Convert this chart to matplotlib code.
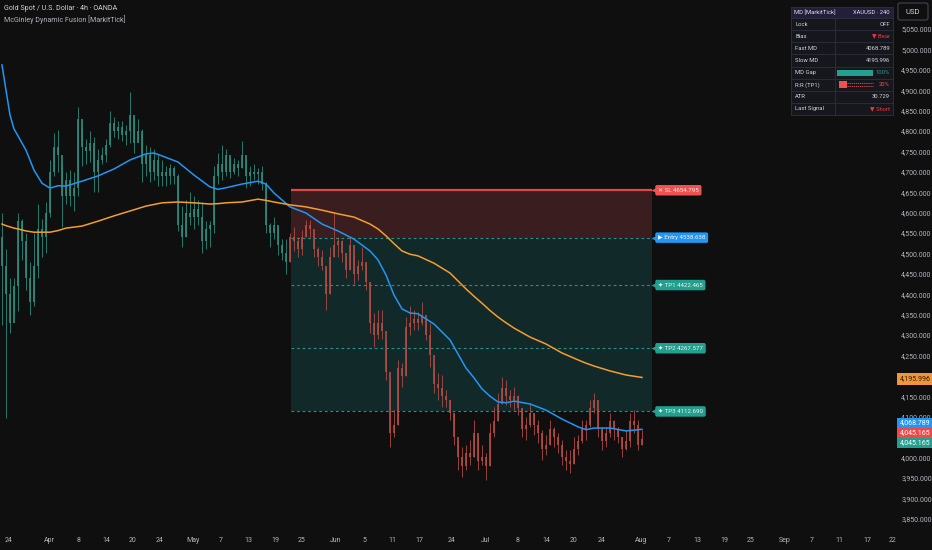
import numpy as np
import matplotlib.pyplot as plt
from matplotlib.patches import Rectangle, FancyBboxPatch

plt.rcParams['font.family'] = ['Roboto', 'DejaVu Sans']

# 4h candles, roughly one per step
first_open = 4540
close = [4470, 4400, 4330, 4420, 4580, 4530, 4440, 4380, 4470, 4560,
         4540, 4600, 4700, 4760, 4740, 4640, 4680, 4640, 4660, 4830,
         4760, 4750, 4770, 4700, 4730, 4740, 4765, 4820, 4800, 4810,
         4790, 4800, 4840, 4770, 4800, 4720, 4740, 4700, 4730, 4690,
         4700, 4690, 4710, 4690, 4570, 4540, 4600, 4590, 4610, 4590,
         4530, 4560, 4570, 4690, 4720, 4700, 4740, 4700, 4720, 4710,
         4740, 4690, 4700, 4695, 4700, 4670, 4570, 4550, 4570, 4520,
         4500, 4480, 4540, 4530, 4510, 4540, 4570, 4560, 4510, 4490,
         4470, 4400, 4490, 4520, 4530, 4500, 4460, 4520, 4450, 4470,
         4480, 4430, 4330, 4300, 4330, 4310, 4210, 4060, 4080, 4220,
         4200, 4320, 4330, 4340, 4330, 4350, 4300, 4250, 4180, 4170,
         4150, 4140, 4110, 4050, 4000, 3980, 4010, 4000, 4060, 3990,
         4000, 3980, 4060, 4090, 4130, 4170, 4150, 4140, 4150, 4120,
         4070, 4080, 4110, 4080, 4060, 4020, 4030, 4070, 4050, 4030,
         4000, 3990, 3985, 4020, 4040, 4070, 4080, 4120, 4140, 4070,
         4040, 4060, 4090, 4070, 4050, 4020, 4040, 4090, 4080, 4030,
         4045.165]
high = [4600, 4510, 4440, 4440, 4600, 4585, 4550, 4480, 4550, 4620,
        4585, 4625, 4730, 4795, 4802, 4720, 4700, 4705, 4700, 4860,
        4810, 4780, 4800, 4785, 4755, 4760, 4780, 4850, 4835, 4825,
        4825, 4815, 4895, 4830, 4830, 4805, 4765, 4760, 4755, 4740,
        4730, 4715, 4720, 4715, 4695, 4615, 4630, 4650, 4640, 4630,
        4625, 4580, 4580, 4715, 4745, 4765, 4755, 4735, 4735, 4730,
        4775, 4730, 4715, 4720, 4710, 4715, 4675, 4575, 4590, 4565,
        4535, 4535, 4550, 4565, 4540, 4557, 4582, 4582, 4535, 4515,
        4508, 4465, 4515, 4600, 4540, 4533, 4490, 4540, 4496, 4484,
        4515, 4476, 4428, 4355, 4361, 4361, 4288, 4190, 4116, 4239,
        4232, 4345, 4370, 4361, 4357, 4380, 4337, 4330, 4227, 4207,
        4202, 4165, 4141, 4109, 4043, 4026, 4031, 4043, 4092, 4050,
        4031, 4011, 4085, 4124, 4158, 4197, 4190, 4165, 4173, 4153,
        4116, 4100, 4133, 4109, 4092, 4067, 4055, 4092, 4075, 4060,
        4043, 4018, 4018, 4050, 4055, 4092, 4092, 4141, 4158, 4116,
        4075, 4075, 4109, 4092, 4075, 4050, 4067, 4109, 4116, 4092,
        4067]
low = [4325, 4097, 4305, 4355, 4360, 4485, 4410, 4350, 4370, 4440,
       4490, 4500, 4590, 4690, 4700, 4565, 4620, 4615, 4605, 4640,
       4715, 4720, 4725, 4650, 4650, 4720, 4725, 4760, 4785, 4780,
       4775, 4765, 4770, 4745, 4775, 4675, 4690, 4675, 4680, 4665,
       4665, 4665, 4670, 4670, 4555, 4515, 4540, 4570, 4560, 4570,
       4500, 4510, 4515, 4550, 4670, 4680, 4690, 4685, 4695, 4690,
       4710, 4660, 4665, 4680, 4670, 4655, 4550, 4515, 4535, 4495,
       4485, 4450, 4480, 4505, 4490, 4496, 4540, 4540, 4490, 4470,
       4459, 4361, 4400, 4490, 4490, 4480, 4440, 4460, 4425, 4435,
       4459, 4410, 4305, 4270, 4290, 4290, 4190, 4025, 4050, 4080,
       4172, 4200, 4300, 4312, 4312, 4325, 4288, 4222, 4158, 4141,
       4124, 4124, 4092, 4030, 3969, 3952, 3969, 3982, 4000, 3969,
       3982, 3945, 3980, 4050, 4090, 4130, 4129, 4124, 4116, 4104,
       4050, 4043, 4075, 4055, 4035, 3994, 4006, 4030, 4026, 4011,
       3982, 3969, 3962, 3985, 4006, 4035, 4043, 4075, 4109, 4050,
       4018, 4026, 4050, 4043, 4035, 4001, 4018, 4026, 4060, 4018,
       4031]

# McGinley dynamic lines, read at these bars
md_idx = [0, 1, 2, 3, 4, 6, 8, 10, 12, 14, 16, 20, 24, 28, 32, 36, 38, 40,
          44, 48, 52, 54, 56, 60, 64, 66, 68, 72, 76, 80, 84, 88, 92, 94, 96,
          98, 100, 102, 104, 108, 112, 116, 118, 120, 122, 124, 126, 128,
          132, 136, 140, 144, 146, 148, 152, 156, 160]
fast_md = [4962, 4900, 4839, 4805, 4788, 4753, 4704, 4672, 4660, 4666,
           4665, 4677, 4690, 4707, 4729, 4744, 4746, 4739, 4724, 4692,
           4663, 4657, 4661, 4670, 4677, 4670, 4648, 4614, 4599, 4572,
           4555, 4535, 4506, 4484, 4447, 4398, 4364, 4354, 4352, 4327,
           4288, 4219, 4195, 4168, 4150, 4136, 4134, 4138, 4131, 4116,
           4094, 4075, 4068, 4072, 4072, 4065, 4068.789]
slow_md = [4572, 4568, 4565, 4562, 4560, 4555, 4552, 4552, 4552, 4556,
           4562, 4567, 4579, 4592, 4604, 4616, 4620, 4624, 4626, 4624,
           4621, 4622, 4624, 4626, 4633, 4630, 4626, 4619, 4614, 4606,
           4597, 4589, 4572, 4560, 4543, 4524, 4506, 4498, 4494, 4476,
           4452, 4413, 4395, 4378, 4360, 4344, 4330, 4317, 4295, 4278,
           4256, 4239, 4231, 4224, 4212, 4202, 4195.996]

signal_bar = 72
sl, entry = 4654.795, 4538.638
tp1, tp2, tp3 = 4422.465, 4267.577, 4112.690

date_labels = ['24', 'Apr', '8', '14', '20', '24', 'May', '7', '13', '19', '25',
               'Jun', '5', '11', '17', '24', 'Jul', '8', '14', '20', '24',
               'Aug', '7', '13', '19', '25', 'Sep', '7', '11', '17', '22']
date_pos = [1.75, 11.75, 19.25, 26, 32.75, 39.5, 47.75, 54.75, 61.5, 68.25, 75,
            83.5, 90.5, 97.5, 104.25, 112.5, 120.75, 129, 136, 143, 150,
            159.75, 166.75, 173.75, 180.5, 187.25, 195.75, 202.5, 209.25,
            216.25, 222.6]

# price scale labels; 4,200 and 4,050 sit under the price boxes
price_ticks = [3850, 3900, 3950, 4000, 4100, 4150, 4250, 4300, 4350, 4400,
               4450, 4500, 4550, 4600, 4650, 4700, 4750, 4800, 4850, 4900,
               4950, 5000, 5050]

table_rows = ['Lock', 'Bias', 'Fast MD', 'Slow MD', 'MD Gap', 'R:R (TP1)', 'ATR', 'Last Signal']
table_vals = ['OFF', '▼ Bear', '4068.789', '4195.996', '100%', '20%', '30.729', '▼ Short']

bg = '#0f0f0f'
teal = '#2e8c7e'
red = '#b14c46'
txt = '#b2b5be'

fig = plt.figure(figsize=(9.32, 5.5), dpi=100, facecolor=bg)
ax = fig.add_axes([0, 20 / 550, 893 / 932, 530 / 550])
ax.set_facecolor(bg)
for s in ax.spines.values():
    s.set_visible(False)

c = np.array(close, dtype=float)
h = np.array(high, dtype=float)
l = np.array(low, dtype=float)
o = np.concatenate([[first_open], c[:-1]])
idx = np.arange(len(c))
cols = [teal if i < signal_bar else red for i in idx]

# trade box
x0, x1 = signal_bar + 0.25, len(c) + 1.5
ax.add_patch(Rectangle((x0, entry), x1 - x0, sl - entry, fc='#3a1d1e', ec='none', zorder=1))
ax.add_patch(Rectangle((x0, tp3), x1 - x0, entry - tp3, fc='#12292a', ec='none', zorder=1))
ax.hlines(sl, x0, x1, color='#e04848', lw=1.6, zorder=2)
for lv in [entry, tp1, tp2, tp3]:
    ax.hlines(lv, x0, x1, color='#2a8f84', lw=0.8, linestyles=(0, (2.5, 2.5)), zorder=2)

ax.vlines(idx, l, h, colors=cols, lw=0.7, alpha=0.85, zorder=3)
ax.bar(idx, np.abs(c - o), bottom=np.minimum(o, c), width=0.6, color=cols, alpha=0.85, zorder=3)

ax.plot(md_idx, fast_md, color='#2196f3', lw=1.1, zorder=5, solid_joinstyle='round')
ax.plot(md_idx, slow_md, color='#f59d2e', lw=1.1, zorder=5, solid_joinstyle='round')

# level tags
tags = [(sl, '✕ SL 4654.795', '#f05050'),
        (entry, '▶ Entry 4538.638', '#2196f3'),
        (tp1, '✦ TP1 4422.465', '#22a08f'),
        (tp2, '✦ TP2 4267.577', '#22a08f'),
        (tp3, '✦ TP3 4112.690', '#22a08f')]
for lv, s, fc in tags:
    ax.plot(x1 + 0.55, lv, marker='<', ms=4.5, color=fc, mec='none', zorder=6, clip_on=False)
    ax.text(x1 + 1.5, lv, s, fontsize=4.4, color='#f0f0f0', ha='left', va='center', zorder=6,
            bbox=dict(boxstyle='round,pad=0.45,rounding_size=0.3', fc=fc, ec='none'))

ax.set_xlim(-0.5, 222.75)
ax.set_ylim(3822.1, 5121.1)

ax.set_xticks(date_pos)
ax.set_xticklabels(date_labels)
ax.set_yticks(price_ticks)
ax.set_yticklabels([f'{v:,.3f}' for v in price_ticks])
ax.tick_params(axis='x', length=0, pad=5.4, labelsize=5, labelcolor=txt)
ax.tick_params(axis='y', left=False, labelleft=False, right=False, labelright=True,
               length=0, pad=6, labelsize=5, labelcolor=txt)

# overlay in pixel coordinates
ov = fig.add_axes([0, 0, 1, 1], zorder=10)
ov.set_xlim(0, 932)
ov.set_ylim(550, 0)
ov.axis('off')

# stacked price boxes on the scale
for ytop, hgt, s, fc, tc in [(373, 12, '4,195.996', '#f0953a', '#2b1d08'),
                             (418, 10, '4,068.789', '#2196f3', '#ffffff'),
                             (428, 9.5, '4,045.165', '#f04848', '#ffffff'),
                             (437.5, 10, '4,045.165', '#22a08f', '#ffffff')]:
    ov.add_patch(Rectangle((897, ytop), 35, hgt, fc=fc, ec='none'))
    ov.text(899.5, ytop + hgt / 2, s, fontsize=5, color=tc, va='center')

ov.text(4, 9, 'Gold Spot / U.S. Dollar · 4h · OANDA', fontsize=5.1, color='#d1d4dc', va='center')
ov.text(4, 20, 'McGinley Dynamic Fusion [MarkitTick]', fontsize=5.1, color=txt, va='center')

ov.add_patch(FancyBboxPatch((898, 3), 30, 17, boxstyle='round,pad=0,rounding_size=2',
                            fc=bg, ec='#434651', lw=0.8))
ov.text(913, 11.5, 'USD', fontsize=5.5, color='#d1d4dc', ha='center', va='center')

# info table
tx0, tx1, tsplit = 791, 893, 835
ov.add_patch(Rectangle((tx0, 7), tx1 - tx0, 108, fc='#16171d', ec='#2c2f3a', lw=0.6))
ov.add_patch(Rectangle((tx0, 7), tx1 - tx0, 11, fc='#231e3c', ec='#2c2f3a', lw=0.6))
ov.text(794, 12.5, 'MD [MarkitTick]', fontsize=4.2, color='#e0e0e0', va='center')
ov.text(890, 12.5, 'XAUUSD · 240', fontsize=4.2, color='#e0e0e0', va='center', ha='right')
row_h = 97 / len(table_rows)
for k, (name, val) in enumerate(zip(table_rows, table_vals)):
    y0 = 18 + k * row_h
    ov.add_patch(Rectangle((tx0, y0), tsplit - tx0, row_h, fc='none', ec='#2c2f3a', lw=0.5))
    ov.add_patch(Rectangle((tsplit, y0), tx1 - tsplit, row_h, fc='none', ec='#2c2f3a', lw=0.5))
    yc = y0 + row_h / 2
    ov.text(795, yc, name, fontsize=4.2, color='#d1d4dc', va='center')
    vc = '#d1d4dc'
    if '▼' in val:
        vc = '#f23645'
    elif name == 'MD Gap':
        vc = '#22a08f'
        ov.add_patch(Rectangle((837, yc - 3), 36, 6, fc='#22a08f', ec='none'))
    elif name.startswith('R:R'):
        vc = '#f05050'
        ov.add_patch(Rectangle((839, yc - 3.5), 8, 7, fc='#f05050', ec='none'))
        ov.plot([847, 873], [yc - 1.5, yc - 1.5], color='#f05050', lw=0.6, ls=(0, (1.5, 1)))
        ov.plot([847, 873], [yc + 1.5, yc + 1.5], color='#f05050', lw=0.6, ls=(0, (1.5, 1)))
    ov.text(890, yc, val, fontsize=4.2, color=vc, va='center', ha='right')

fig.savefig('out.png', dpi=100, facecolor=bg)
